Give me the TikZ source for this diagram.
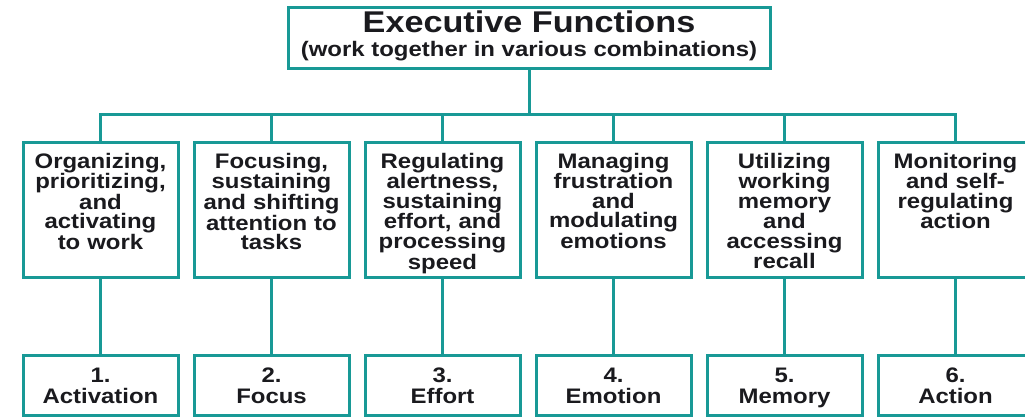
\documentclass[tikz,border=0pt]{standalone}
\usepackage{fontspec}
\setmainfont{Liberation Sans}[FakeStretch=1.14]
\usepackage{tikz}
\usetikzlibrary{positioning}
\definecolor{efteal}{RGB}{24,153,150}
\definecolor{eftext}{RGB}{26,26,30}
\tikzstyle{head} = [rectangle, draw=efteal, line width=3pt, outer sep=0pt, inner sep=0pt, minimum width=482pt, align=center, text height=48.5pt, text depth=12.5pt, text=eftext, font=\fontsize{30}{23.5}\selectfont\bfseries]
\tikzstyle{func} = [rectangle, draw=efteal, line width=3pt, outer sep=0pt, inner sep=0pt, minimum width=155pt, text width=152pt, align=center, text height=25pt, text depth=109pt, text=eftext, font=\fontsize{21}{19.5}\selectfont\bfseries]
\tikzstyle{numbox} = [rectangle, draw=efteal, line width=3pt, outer sep=0pt, inner sep=0pt, minimum width=155pt, text width=152pt, align=center, text height=27pt, text depth=33pt, text=eftext, font=\fontsize{21}{21}\selectfont\bfseries]
\tikzstyle{link} = [draw=efteal, line width=3pt]

\begin{document}
\begin{tikzpicture}[x=1pt, y=1pt]
		\useasboundingbox[fill=white] (0,0) rectangle (1025,-417);
		\node (ef) [head, anchor=north] at (529,-8) {Executive Functions\\{\fontsize{21}{21}\selectfont (work together in various combinations)}};

		% the six functions
		\node (organize) [func, anchor=north] at (100.5,-143) {Organizing,\\prioritizing,\\and\\activating\\to work};
		\node (focusing) [func, right=16pt of organize] {Focusing,\\sustaining\\and shifting\\attention to\\tasks};
		\node (regulate) [func, right=16pt of focusing] {Regulating\\alertness,\\sustaining\\effort, and\\processing\\speed};
		\node (manage) [func, right=16pt of regulate] {Managing\\frustration\\and\\modulating\\emotions};
		\node (utilize) [func, right=16pt of manage] {Utilizing\\working\\memory\\and\\accessing\\recall};
		\node (monitor) [func, right=16pt of utilize] {Monitoring\\and self-\\regulating\\action};

		% the clusters
		\node (activation) [numbox, below=78pt of organize] {1.\\Activation};
		\node (focus) [numbox, below=78pt of focusing] {2.\\Focus};
		\node (effort) [numbox, below=78pt of regulate] {3.\\Effort};
		\node (emotion) [numbox, below=78pt of manage] {4.\\Emotion};
		\node (memory) [numbox, below=78pt of utilize] {5.\\Memory};
		\node (action) [numbox, below=78pt of monitor] {6.\\Action};

		\coordinate (bus) at (ef.south |- 0,-115);

		\draw [link] (ef.south) -- (bus);
		\draw [link] (organize.north) |- (bus) -| (monitor.north);
		\draw [link] (focusing.north) -- (focusing.north |- bus);
		\draw [link] (regulate.north) -- (regulate.north |- bus);
		\draw [link] (manage.north) -- (manage.north |- bus);
		\draw [link] (utilize.north) -- (utilize.north |- bus);
		\draw [link] (organize) -- (activation);
		\draw [link] (focusing) -- (focus);
		\draw [link] (regulate) -- (effort);
		\draw [link] (manage) -- (emotion);
		\draw [link] (utilize) -- (memory);
		\draw [link] (monitor) -- (action);
	\end{tikzpicture}
\end{document}
